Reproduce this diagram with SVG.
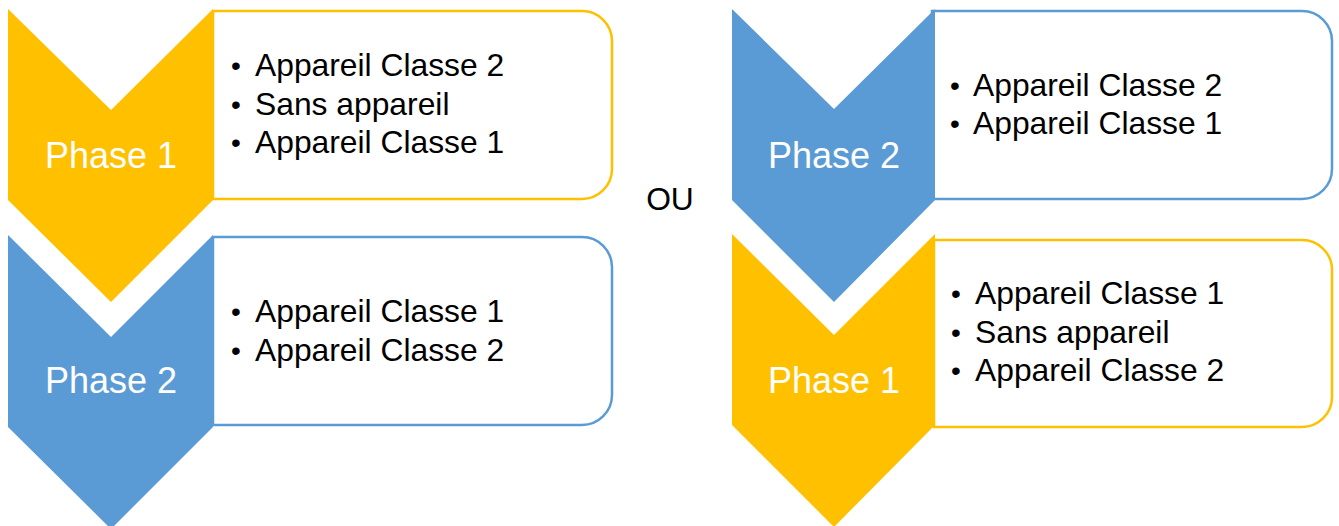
<svg xmlns="http://www.w3.org/2000/svg" width="1339" height="526" viewBox="0 0 1339 526">
<style>
.box{fill:#fff;stroke-width:2.5}
.by{stroke:#FFC000}
.bb{stroke:#5B9BD5}
.cy{fill:#FFC000}
.cb{fill:#5B9BD5}
.ph{font-family:"Liberation Sans",Arial,sans-serif;font-size:36px;fill:#fff;text-anchor:middle}
.li{font-family:"Liberation Sans",Arial,sans-serif;font-size:31.8px;fill:#000}
.bu{font-family:"Liberation Sans",Arial,sans-serif;font-size:28px;fill:#000}
</style>
<rect width="1339" height="526" fill="#fff"/>
<g id="node-left-1">
<path class="box by" d="M213,11 H582 A30,30 0 0 1 612,41 V169 A30,30 0 0 1 582,199 H213 Z"/>
<polygon class="cy" points="8,9 111,110 213,9 213,200 111,302 8,200"/>
<text class="ph" x="111" y="168">Phase 1</text>
<text class="bu"><tspan x="231" y="75">•</tspan><tspan x="231" y="113.5">•</tspan><tspan x="231" y="152">•</tspan></text>
<text class="li"><tspan x="255" y="76">Appareil Classe 2</tspan><tspan x="255" y="114.5">Sans appareil</tspan><tspan x="255" y="153">Appareil Classe 1</tspan></text>
</g>
<g id="node-left-2">
<path class="box bb" d="M213,237 H582 A30,30 0 0 1 612,267 V395 A30,30 0 0 1 582,425 H213 Z"/>
<polygon class="cb" points="8,235 111,337 213,235 213,427 111,529 8,427"/>
<text class="ph" x="111" y="393">Phase 2</text>
<text class="bu"><tspan x="231" y="321">•</tspan><tspan x="231" y="360">•</tspan></text>
<text class="li"><tspan x="255" y="322">Appareil Classe 1</tspan><tspan x="255" y="361">Appareil Classe 2</tspan></text>
</g>
<g id="node-ou">
<text class="li" x="670" y="210" text-anchor="middle">OU</text>
</g>
<g id="node-right-1">
<path class="box bb" d="M932,11 H1302 A30,30 0 0 1 1332,41 V169 A30,30 0 0 1 1302,199 H932 Z"/>
<polygon class="cb" points="732,9 834,109 935,9 935,200 834,302 732,200"/>
<text class="ph" x="834" y="168">Phase 2</text>
<text class="bu"><tspan x="950" y="95">•</tspan><tspan x="950" y="133">•</tspan></text>
<text class="li"><tspan x="973" y="96">Appareil Classe 2</tspan><tspan x="973" y="134">Appareil Classe 1</tspan></text>
</g>
<g id="node-right-2">
<path class="box by" d="M934,240 H1302 A30,30 0 0 1 1332,270 V397 A30,30 0 0 1 1302,427 H934 Z"/>
<polygon class="cy" points="732,234 834,335 935,234 935,425 834,527 732,425"/>
<text class="ph" x="834" y="393">Phase 1</text>
<text class="bu"><tspan x="951" y="303">•</tspan><tspan x="951" y="341.5">•</tspan><tspan x="951" y="380">•</tspan></text>
<text class="li"><tspan x="975" y="304">Appareil Classe 1</tspan><tspan x="975" y="342.5">Sans appareil</tspan><tspan x="975" y="381">Appareil Classe 2</tspan></text>
</g>
<g id="connectors"></g>
</svg>
